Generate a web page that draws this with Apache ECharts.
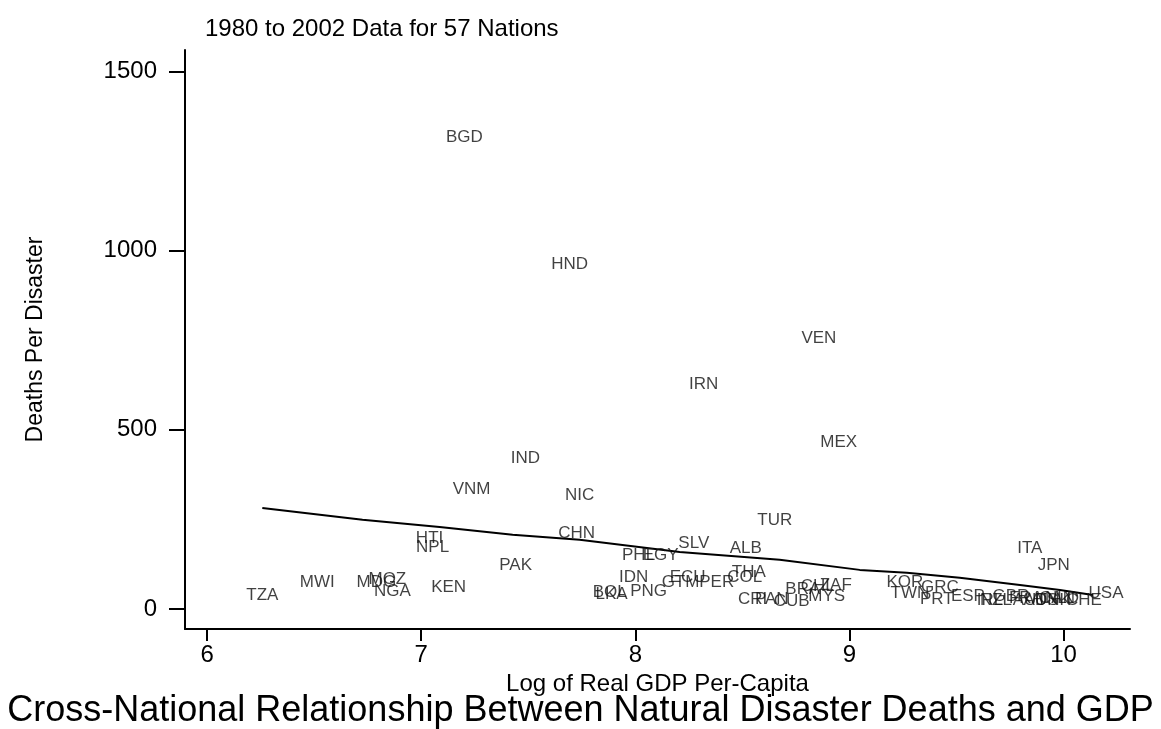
<!DOCTYPE html>
<html>
<head>
<meta charset="utf-8">
<script src="https://cdn.jsdelivr.net/npm/echarts@6.0.0/dist/echarts.min.js"></script>
<style>
html,body{margin:0;padding:0;background:#fff;}
#main{width:1161px;height:729px;}
</style>
</head>
<body>
<div id="main"></div>
<script>
// country codes, log gdp, deaths per disaster
var codes = ['BGD','HND','VEN','IRN','MEX','IND','VNM','NIC','TUR','CHN',
	'HTI','NPL','SLV','ALB','ITA','PHL','EGY','JPN','PAK','THA',
	'COL','IDN','ECU','GTM','PER','MOZ','MWI','MDG','NGA','TZA',
	'KEN','BOL','LKA','PNG','CRI','PAN','CUB','BRA','CHL','ZAF',
	'MYS','KOR','TWN','GRC','PRT','ESP','IRL','NZL','GBR','FRA',
	'AUT','AUS','DNK','CAN','NLD','CHE','USA'];
var loggdp = [7.202,7.693,8.857,8.319,8.950,7.487,7.235,7.740,8.651,7.726,
	7.039,7.053,8.273,8.516,9.842,8.015,8.118,9.954,7.441,8.530,
	8.511,7.992,8.244,8.211,8.380,6.842,6.515,6.791,6.866,6.258,
	7.128,7.880,7.889,8.062,8.548,8.637,8.730,8.782,8.852,8.936,
	8.894,9.259,9.282,9.422,9.408,9.553,9.656,9.684,9.754,9.824,
	9.842,9.894,9.950,9.969,9.992,10.095,10.198];
var deaths = [1316,961,754,628,464,419,335,318,246,212,
	196,173,184,168,168,151,151,123,123,101,
	89,89,87,75,75,84,73,73,50,39,
	61,47,42,50,28,28,22,56,64,67,
	36,75,45,61,28,34,25,25,34,31,
	25,25,25,31,31,25,45];

// lowess smooth
var fitX = [6.258,6.726,7.086,7.427,7.740,8.207,8.674,9.048,9.268,9.515,9.796,9.983,10.137];
var fitY = [282,249,229,207,193,159,137,109,101,87,67,53,39];

var xTicks = [6,7,8,9,10];
var yTicks = [0,500,1000,1500];

var pts = [];
for (var i = 0; i < codes.length; i++) {
	pts.push({value:[loggdp[i],deaths[i]], name:codes[i]});
}
var fit = [];
for (var j = 0; j < fitX.length; j++) {
	fit.push([fitX[j],fitY[j]]);
}

var font = 'Liberation Sans, Arial, sans-serif';
var chart = echarts.init(document.getElementById('main'));
var option = {
	backgroundColor:'#fff',
	animation:false,
	title:[{
		text:'1980 to 2002 Data for 57 Nations',
		left:200, top:12,
		textStyle:{fontFamily:font,fontSize:24,fontWeight:'normal',color:'#000'}
	},{
		text:'Cross-National Relationship Between Natural Disaster Deaths and GDP',
		left:'center', top:688,
		textStyle:{fontFamily:font,fontSize:36,fontWeight:'normal',color:'#000'}
	}],
	grid:{left:185,right:31,top:50,bottom:100},
	xAxis:{
		type:'value', min:5.897, max:10.31,
		name:'Log of Real GDP Per-Capita', nameLocation:'middle', nameGap:37,
		nameTextStyle:{fontFamily:font,fontSize:24,color:'#000'},
		axisLine:{show:true,onZero:false,lineStyle:{color:'#000',width:2}},
		axisTick:{show:true,length:12,customValues:xTicks,lineStyle:{color:'#000',width:2}},
		axisLabel:{customValues:xTicks,margin:14,fontFamily:font,fontSize:24,color:'#000'},
		splitLine:{show:false}
	},
	yAxis:{
		type:'value', min:-56, max:1560,
		name:'Deaths Per Disaster', nameLocation:'middle', nameGap:138, nameRotate:90,
		nameTextStyle:{fontFamily:font,fontSize:23,color:'#000'},
		axisLine:{show:true,onZero:false,lineStyle:{color:'#000',width:2}},
		axisTick:{show:true,length:16,customValues:yTicks,lineStyle:{color:'#000',width:2}},
		axisLabel:{customValues:yTicks,margin:28,fontFamily:font,fontSize:24,color:'#000',
			formatter:function(v){return String(v);}},
		splitLine:{show:false}
	},
	series:[{
		type:'scatter',
		data:pts,
		symbolSize:1,
		itemStyle:{color:'rgba(0,0,0,0)'},
		label:{show:true,position:'inside',formatter:'{b}',fontFamily:font,fontSize:17,color:'#111'},
		z:3
	},{
		type:'line',
		data:fit,
		showSymbol:false,
		smooth:false,
		lineStyle:{color:'#000',width:2},
		z:2
	}]
};
chart.setOption(option);
</script>
</body>
</html>
